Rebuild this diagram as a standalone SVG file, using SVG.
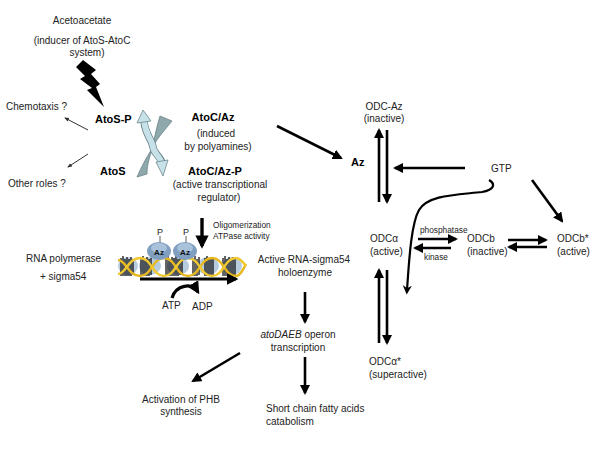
<svg xmlns="http://www.w3.org/2000/svg" width="600" height="450" viewBox="0 0 600 450">
<defs>
<style>
text{font-family:"Liberation Sans",Arial,sans-serif;font-size:10px;fill:#222}
.b{font-weight:bold;font-size:11px;fill:#000}
.s{font-size:8.3px}
.c{text-anchor:middle}
.ln{stroke:#000;stroke-width:2.6;fill:none;marker-end:url(#ah)}
.thin{stroke:#333;stroke-width:1;fill:none;marker-end:url(#ahs)}
.bar{stroke:#111;stroke-width:1.3}
.lt{fill:#c6e2e8;stroke:#5f7a80;stroke-width:0.7}
.gr{fill:#8fa8ac;stroke:#5f7a80;stroke-width:0.7}
</style>
<marker id="ah" viewBox="0 0 10 10" refX="8" refY="5" markerWidth="3.9" markerHeight="3.9" orient="auto"><path d="M0,0 L10,5 L0,10 z" fill="#000"/></marker>
<marker id="ahs" viewBox="0 0 10 10" refX="8" refY="5" markerWidth="5" markerHeight="5" orient="auto"><path d="M0,1 L10,5 L0,9 z" fill="#333"/></marker>
<marker id="ahc" viewBox="0 0 10 10" refX="5" refY="5" markerWidth="4.2" markerHeight="4.2" orient="auto"><path d="M0,0 L10,5 L0,10 L3,5 z" fill="#000"/></marker>
</defs>
<rect width="600" height="450" fill="#fff"/>

<g id="acetoacetate">
<text class="c" x="82" y="24">Acetoacetate</text>
<text class="c" x="82" y="44">(inducer of AtoS-AtoC</text>
<text class="c" x="87" y="56">system)</text>
<polygon points="83,60 96,70 91,74 100,84 96,87 104,107 87,90 92,88 80,79 85,76 76,67" fill="#000"/>
</g>

<g id="atos">
<text class="b" x="95" y="123">AtoS-P</text>
<text class="b" x="100" y="175">AtoS</text>
<text x="6" y="110">Chemotaxis ?</text>
<text x="8" y="187">Other roles ?</text>
</g>

<g id="exchange">
<path class="gr" d="M160,116 L172,121 C165,130 157,138 153,147 C154,138 157,126 160,116 Z"/>
<path class="gr" d="M153,147 C150,156 147,164 147,174 L137,177 C142,165 148,155 153,147 Z"/>
<path d="M144,121 C145,134 152,140 153,147 C154,154 161,157 162,163" stroke="#5f7a80" stroke-width="7.4" fill="none"/>
<path d="M144,120 C145,134 152,140 153,147 C154,154 161,157 162,164" stroke="#c6e2e8" stroke-width="6" fill="none"/>
<polygon class="lt" points="137,123 143,110 151,121"/>
<polygon class="lt" points="156,162 163,176 168,160"/>
</g>

<g id="atoc">
<text class="b c" x="213" y="121">AtoC/Az</text>
<text class="c" x="216" y="137">(induced</text>
<text class="c" x="218" y="150">by polyamines)</text>
<text class="b c" x="215" y="175">AtoC/Az-P</text>
<text class="c" x="220" y="188">(active transcriptional</text>
<text class="c" x="219" y="201">regulator)</text>
</g>

<g id="oligomerization">
<text class="s" x="213" y="228">Oligomerization</text>
<text class="s" x="213" y="239">ATPase activity</text>
</g>

<g id="rnapol">
<text x="26" y="262">RNA polymerase</text>
<text x="40" y="280">+ sigma54</text>
</g>

<g id="dna">
<ellipse cx="128" cy="266" rx="10" ry="9" fill="#b8cce0"/>
<ellipse cx="150" cy="266" rx="11" ry="9" fill="#b8cce0"/>
<ellipse cx="178" cy="266" rx="11" ry="9" fill="#b8cce0"/>
<ellipse cx="208" cy="266" rx="11" ry="9" fill="#b8cce0"/>
<ellipse cx="232" cy="266" rx="10" ry="9" fill="#b8cce0"/>
<g class="bar">
<path d="M121,258v18M123,256v20M125,259v17M127,257v19M129,259v17M131,257v19M133,259v16"/>
<path d="M141,258v18M143,256v20M145,259v17M147,257v19M149,259v17M151,258v17"/>
<path d="M166,258v18M168,256v20M170,259v17M172,257v19M174,258v18M176,256v20M178,259v17M180,257v18M182,259v16"/>
<path d="M193,258v18M195,256v20M197,259v17M199,257v18"/>
<path d="M205,258v18M207,256v20M209,259v17M211,257v19M213,259v16"/>
<path d="M223,258v18M225,256v20M227,259v17M229,257v19M231,259v17M233,257v19M235,259v16"/>
</g>
<path d="M118,260 C126,260 128,276 140,276 C152,276 152,258 164,258 C176,258 176,276 188,276 C200,276 200,258 212,258 C224,258 224,276 236,276 C240,276 243,270 246,264" stroke="#e8b820" stroke-width="2.4" fill="none"/>
<path d="M118,274 C126,274 128,258 140,258 C152,258 152,276 164,276 C176,276 176,258 188,258 C200,258 200,276 212,276 C224,276 224,258 236,258 C240,258 243,262 246,266" stroke="#f0c830" stroke-width="2.4" fill="none"/>
<path d="M140,279 L236,279" stroke="#000" stroke-width="3" marker-end="url(#ah)"/>
</g>

<g id="az-complex">
<line x1="160" y1="236" x2="160" y2="244" stroke="#333" stroke-width="0.8"/>
<line x1="186" y1="236" x2="186" y2="244" stroke="#333" stroke-width="0.8"/>
<text x="157" y="235" style="font-size:9px">P</text>
<text x="183" y="235" style="font-size:9px">P</text>
<ellipse cx="159" cy="251" rx="12" ry="9" fill="#7f9ec0"/>
<ellipse cx="185" cy="251" rx="12" ry="9" fill="#7f9ec0"/>
<ellipse cx="159" cy="248" rx="8" ry="5" fill="#a9c2dc"/>
<ellipse cx="185" cy="248" rx="8" ry="5" fill="#a9c2dc"/>
<text class="c" x="159" y="255" style="font-size:8px;font-weight:bold;fill:#111">Az</text>
<text class="c" x="185" y="255" style="font-size:8px;font-weight:bold;fill:#111">Az</text>
</g>

<g id="atp-adp">
<text x="162" y="309">ATP</text>
<text x="192" y="310">ADP</text>
<path d="M172,298 C176,285 192,282 198,292" stroke="#000" stroke-width="3.2" fill="none" marker-end="url(#ah)"/>
</g>

<g id="holoenzyme">
<text class="c" x="304" y="263">Active RNA-sigma54</text>
<text class="c" x="305" y="276">holoenzyme</text>
</g>

<g id="operon">
<text class="c" x="298" y="338"><tspan font-style="italic">atoDAEB</tspan> operon</text>
<text class="c" x="298" y="351">transcription</text>
</g>

<g id="phb">
<text class="c" x="181" y="403">Activation of PHB</text>
<text class="c" x="181" y="415">synthesis</text>
</g>

<g id="scfa">
<text x="266" y="412">Short chain fatty acids</text>
<text x="266" y="425">catabolism</text>
</g>

<g id="az"><text class="b" x="351" y="166">Az</text></g>
<g id="odc-az">
<text class="c" x="384" y="110">ODC-Az</text>
<text class="c" x="384" y="122">(inactive)</text>
</g>
<g id="gtp"><text x="491" y="172">GTP</text></g>
<g id="odca">
<text x="370" y="242">ODCα</text>
<text x="370" y="255">(active)</text>
</g>
<g id="odcb">
<text x="467" y="242">ODCb</text>
<text x="467" y="255">(inactive)</text>
</g>
<g id="odcb-star">
<text x="557" y="242">ODCb*</text>
<text x="557" y="255">(active)</text>
</g>
<g id="odca-star">
<text x="369" y="365">ODCα*</text>
<text x="369" y="378">(superactive)</text>
</g>
<g id="enzymes">
<text class="s" x="420" y="233">phosphatase</text>
<text class="s" x="424" y="260">kinase</text>
</g>

<g id="connectors">
<line class="thin" x1="88" y1="130" x2="65" y2="118"/>
<line class="thin" x1="88" y1="154" x2="68" y2="167"/>
<line class="ln" x1="202" y1="218" x2="202" y2="246" style="stroke-width:3.4"/>
<line class="ln" x1="277" y1="126" x2="341" y2="158"/>
<line class="ln" x1="379" y1="202" x2="379" y2="130"/>
<line class="ln" x1="387" y1="130" x2="387" y2="202"/>
<line class="ln" x1="465" y1="168" x2="395" y2="168"/>
<line class="ln" x1="532" y1="180" x2="562" y2="221"/>
<path d="M489,180 C496,184 494,190 482,192 C455,195 428,195 419,210 C411,224 409,262 407,290" stroke="#000" stroke-width="2.2" fill="none" marker-end="url(#ahc)"/>
<line class="ln" x1="418" y1="239" x2="456" y2="239"/>
<line class="ln" x1="451" y1="248" x2="415" y2="248"/>
<line class="ln" x1="508" y1="240" x2="546" y2="240"/>
<line class="ln" x1="547" y1="247" x2="509" y2="247"/>
<line class="ln" x1="379" y1="343" x2="379" y2="270"/>
<line class="ln" x1="387" y1="270" x2="387" y2="343"/>
<line class="ln" x1="305" y1="292" x2="305" y2="322"/>
<line class="ln" x1="240" y1="353" x2="193" y2="381"/>
<line class="ln" x1="305" y1="357" x2="305" y2="393"/>
</g>
</svg>
